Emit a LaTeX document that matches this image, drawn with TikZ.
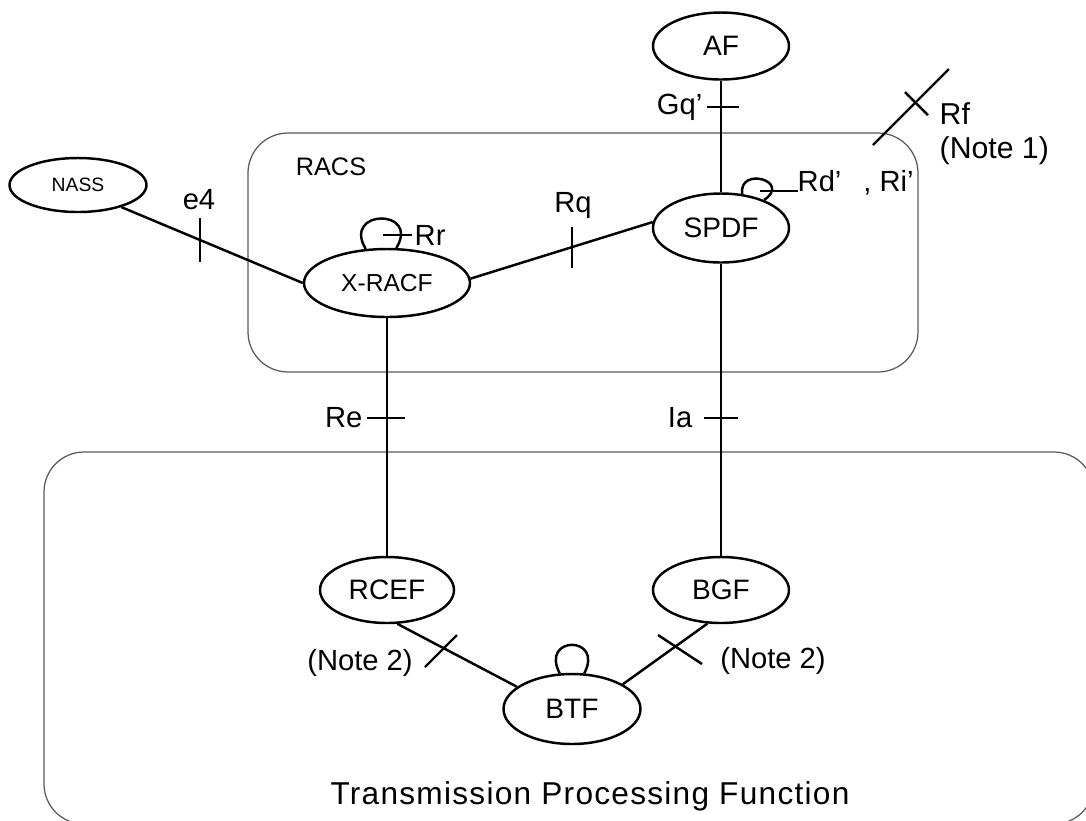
\documentclass[tikz,border=0pt]{standalone}
\usepackage{fontspec}
\setmainfont{Liberation Sans}
\usetikzlibrary{shapes.geometric,positioning}

\begin{document}
\begin{tikzpicture}
        [x=0.1mm, y=-0.1mm,
         fn/.style={ellipse, draw=black, line width=0.7pt, inner sep=0pt, minimum width=13.6mm, minimum height=6.8mm, font=\fontsize{8}{9}\selectfont},
         link/.style={draw=black, line width=0.7pt},
         area/.style={draw=black!65, line width=0.35pt, rounded corners=4mm},
         lbl/.style={inner sep=0pt, font=\fontsize{8.3}{9}\selectfont}]
        \clip (0,0) rectangle (1086,821);
        % domains
        \draw [area] (248,133) rectangle (918,372);
        \draw [area] (44,452) rectangle (1094,824);
        \node [lbl, font=\fontsize{7.2}{8}\selectfont] (racs) at (331,167) {RACS};
        \node [lbl, font=\fontsize{9}{10}\selectfont\addfontfeature{LetterSpace=4}] (tpf) at (590,796) {Transmission Processing Function};
        % functional entities
        \node [fn, minimum height=6.7mm] (af) at (721,46) {AF};
        \node [fn, minimum height=6.9mm] (spdf) at (721,228) {SPDF};
        \node [fn, minimum width=13.7mm, minimum height=5.4mm, font=\fontsize{5.5}{6}\selectfont] (nass) at (78,185) {NASS};
        \node [fn, minimum width=16.6mm, font=\fontsize{7}{8}\selectfont] (xracf) at (387,283) {X-RACF};
        \node [fn, minimum width=13.4mm, minimum height=6.6mm] (rcef) at (387,590) {RCEF};
        \node [fn, minimum height=6.6mm] (bgf) at (721,590) {BGF};
        \node [fn, minimum width=13.7mm, minimum height=7mm] (btf) at (572,709) {BTF};
        % reference points
        \draw [link] (nass.-27) -- (xracf.west);
        \draw [link] (xracf.3) -- (spdf.175);
        \draw [link] (af.south) -- (spdf.north);
        \draw [link] (xracf.south) -- (rcef.north);
        \draw [link] (spdf.south) -- (bgf.north);
        \draw [link] (rcef.-73) -- (btf.158);
        \draw [link] (bgf.-112) -- (btf.26);
        \draw [link] (xracf.122) .. controls +(-24,-40) and +(24,-40) .. (xracf.75);
        \draw [link] (spdf.58) .. controls +(-4,-28) and +(28,-19) .. (spdf.33);
        \draw [link] (btf.109) .. controls +(-20,-38) and +(20,-38) .. (btf.71);
        \coordinate (rfA) at (873,145);
        \coordinate (rfB) at (949,69);
        \draw [link] (rfA) -- (rfB);
        % ticks
        \coordinate (gqTick) at (722,107);
        \coordinate (e4Tick) at (200,240);
        \coordinate (rrTick) at (397,235);
        \coordinate (rqTick) at (572,249);
        \coordinate (rdTick) at (779,191);
        \coordinate (rfTick) at (916,103);
        \coordinate (reTick) at (387,418);
        \coordinate (iaTick) at (722,418);
        \coordinate (n2lTick) at (441,651);
        \coordinate (n2rTick) at (679,648);
        \draw [link] (gqTick) +(-15,0) -- +(17,0);
        \draw [link] (e4Tick) +(0,-22) -- +(0,22);
        \draw [link] (rrTick) +(-14,0) -- +(15,0);
        \draw [link] (rqTick) +(0,-22) -- +(0,19);
        \draw [link] (rdTick) +(-19,0) -- +(19,0);
        \draw [link] (rfTick) +(-11,-11) -- +(12,12);
        \draw [link] (reTick) +(-20,0) -- +(18,0);
        \draw [link] (iaTick) +(-18,0) -- +(16,0);
        \draw [link] (n2lTick) +(16,-16) -- +(-16,16);
        \draw [link] (n2rTick) +(-21,-13) -- +(23,16);
        % labels
        \node [lbl, anchor=east] (gqLbl) at (703,107) {Gq’};
        \node [lbl] (e4Lbl) at (199,200) {e4};
        \node [lbl, anchor=west] (rrLbl) at (414,235) {Rr};
        \node [lbl] (rqLbl) at (573,205) {Rq};
        \node [lbl, anchor=west] (rdLbl) at (797,183) {Rd’\hspace{2.2mm}, Ri’};
        \node [lbl, anchor=west, font=\fontsize{8.6}{9}\selectfont] (rfLbl) at (939,114) {Rf};
        \node [lbl, anchor=west, font=\fontsize{8.6}{9}\selectfont] (n1Lbl) at (939,151) {(Note 1)};
        \node [lbl, anchor=east] (reLbl) at (363,418) {Re};
        \node [lbl, anchor=east] (iaLbl) at (693,418) {Ia};
        \node [lbl] (n2lLbl) at (360,663) {(Note 2)};
        \node [lbl] (n2rLbl) at (773,661) {(Note 2)};
    \end{tikzpicture}
\end{document}
